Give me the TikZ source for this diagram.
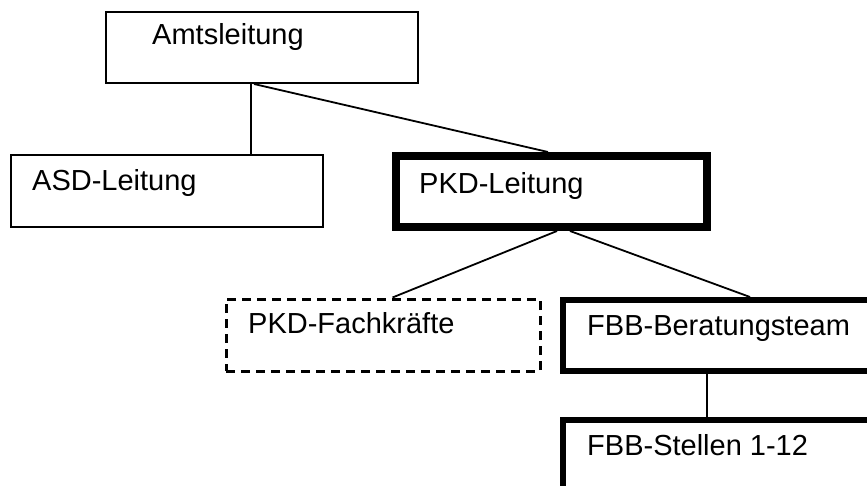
\documentclass[tikz,border=0pt]{standalone}
\usepackage{fontspec}
\setmainfont{Liberation Sans}
\begin{document}
\begin{tikzpicture}[x=1pt,y=-1pt,
  box/.style={draw=black,rectangle,inner sep=0pt,fill=white},
  thinbox/.style={box,line width=2pt},
  boldbox/.style={box,line width=8pt},
  teambox/.style={box,line width=6pt},
  dashbox/.style={box,line width=3pt,dash pattern=on 9pt off 6pt},
  lbl/.style={anchor=base west,inner sep=0pt,font=\fontsize{29}{34}\selectfont},
  link/.style={draw=black,line width=1.8pt}]
  \useasboundingbox (0,0) rectangle (867,486);
  \clip (0,0) rectangle (867,486);

  % boxes
  \node[thinbox,minimum width=312pt,minimum height=71pt] (amt) at (262,47.5) {};
  \node[thinbox,minimum width=312pt,minimum height=72pt] (asd) at (167,191) {};
  \node[boldbox,minimum width=311pt,minimum height=71pt] (pkd) at (551.5,191.5) {};
  \node[dashbox,minimum width=314pt,minimum height=72pt] (fach) at (383,335) {};
  \node[teambox,minimum width=337pt,minimum height=71pt] (fbb) at (731.5,335.5) {};
  \node[teambox,minimum width=337pt,minimum height=100pt] (stellen) at (731.5,470) {};

  % labels
  \node[lbl] (amt-t) at (152,45) {Amtsleitung};
  \node[lbl] (asd-t) at (32,191) {ASD-Leitung};
  \node[lbl] (pkd-t) at (419,194) {PKD-Leitung};
  \node[lbl] (fach-t) at (248,333) {PKD-Fachkräfte};
  \node[lbl] (fbb-t) at (587,335) {FBB-Beratungsteam};
  \node[lbl] (stellen-t) at (587,455) {FBB-Stellen 1-12};

  % connectors
  \draw[link] ([xshift=146pt]amt.south west) -- ([xshift=146pt]amt.south west |- asd.north);
  \draw[link] ([xshift=149pt]amt.south west) -- ([xshift=156pt]pkd.north west);
  \draw[link] ([xshift=165pt]pkd.south west) -- ([xshift=168pt]fach.north west);
  \draw[link] ([xshift=178pt]pkd.south west) -- ([xshift=190pt]fbb.north west);
  \draw[link] ([xshift=147pt]fbb.south west) -- ([xshift=147pt]fbb.south west |- stellen.north);
\end{tikzpicture}
\end{document}
